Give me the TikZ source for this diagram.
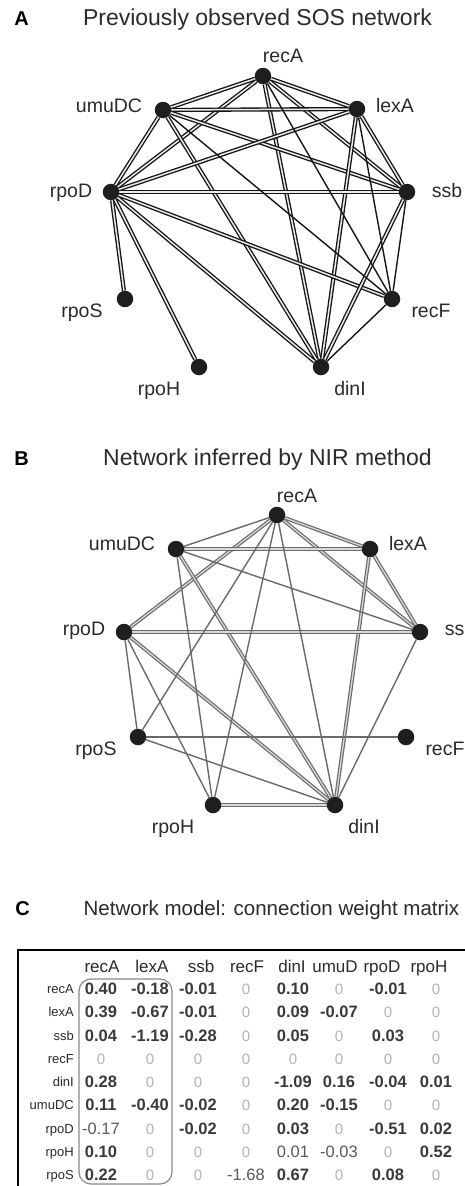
\documentclass[tikz,border=0pt]{standalone}
\usepackage{fontspec}
\setmainfont{Liberation Sans}
\pgfdeclarelayer{paper}
\pgfdeclarelayer{edges}
\pgfsetlayers{paper,edges,main}
\definecolor{txt}{HTML}{2B2B2B}
\definecolor{dotc}{HTML}{1E1E1E}
\definecolor{edgeA}{HTML}{151515}
\definecolor{edgeB}{HTML}{6A6A6A}
\definecolor{valb}{HTML}{3A3A3A}
\definecolor{valm}{HTML}{5A5A5A}
\definecolor{valz}{HTML}{B4B4B4}
\definecolor{boxc}{HTML}{8A8A8A}
% one row of the weight matrix: #1 row index, #2 y, #3 style/value list
\newcommand\cellrow[3]{%
  \foreach \s/\v [count=\j] in {#3} {%
    \pgfmathsetmacro\cx{{101,150,198,246,293,339,388,436}[\j-1]}%
    \node[\s] (c#1-\j) at (\cx,#2) {\v};
  }}
\begin{document}
\begin{tikzpicture}[x=1pt,y=-1pt,
  dot/.style={circle,fill=dotc,inner sep=0pt,minimum size=16.5pt},
  lab/.style={font=\fontsize{19.5}{22}\selectfont,text=txt,anchor=base,inner sep=0pt},
  ttl/.style={font=\fontsize{23}{26}\selectfont,text=txt,anchor=base,inner sep=0pt},
  ttlc/.style={font=\fontsize{20.5}{24}\selectfont,text=txt,anchor=base,inner sep=0pt},
  letter/.style={font=\fontsize{20}{22}\selectfont\bfseries,text=black,anchor=base,inner sep=0pt},
  dblA/.style={draw=edgeA,line width=1.35pt,double=white!92!black,double distance=1.5pt},
  sglA/.style={draw=edgeA,line width=1.4pt},
  dblB/.style={draw=edgeB,line width=1.2pt,double=white!85!black,double distance=1.3pt},
  sglB/.style={draw=edgeB,line width=1.4pt},
  hdr/.style={font=\fontsize{17}{19}\selectfont,text=txt,anchor=center,inner sep=0pt,text height=12pt,text depth=0pt},
  rowlab/.style={font=\fontsize{13}{15}\selectfont,text=txt,anchor=east,inner sep=0pt,text height=9pt,text depth=0pt},
  vb/.style={font=\fontsize{16.5}{18}\selectfont\bfseries,text=valb,anchor=center,inner sep=0pt,text height=11.5pt,text depth=0pt},
  vm/.style={font=\fontsize{16.5}{18}\selectfont,text=valm,anchor=center,inner sep=0pt,text height=11.5pt,text depth=0pt},
  vz/.style={font=\fontsize{15}{18}\selectfont,text=valz,anchor=center,inner sep=0pt,text height=11.5pt,text depth=0pt},
]
\begin{pgfonlayer}{paper}
  \fill[white] (0,0) rectangle (465,1186);
\end{pgfonlayer}
\useasboundingbox (0,0) rectangle (465,1186);

% ---------------- panel A ----------------
\node[letter] (letA) at (21.5,25) {A};
\node[ttl] (ttlA) at (257.5,25) {Previously observed SOS network};

\node[dot] (aRecA) at (263,76) {};
\node[dot] (aUmu)  at (163,110) {};
\node[dot] (aLex)  at (357,109) {};
\node[dot] (aRpoD) at (111,192) {};
\node[dot] (aSsb)  at (407,192) {};
\node[dot] (aRpoS) at (125,299) {};
\node[dot] (aRecF) at (392,299) {};
\node[dot] (aRpoH) at (199,367) {};
\node[dot] (aDinI) at (321,367) {};

\node[lab] (aRecAl) at (283,62) {recA};
\node[lab] (aUmul)  at (109,112) {umuDC};
\node[lab] (aLexl)  at (395,112) {lexA};
\node[lab] (aRpoDl) at (71,197) {rpoD};
\node[lab] (aSsbl)  at (447,197) {ssb};
\node[lab] (aRpoSl) at (82,317) {rpoS};
\node[lab] (aRecFl) at (431,317) {recF};
\node[lab] (aRpoHl) at (159,395) {rpoH};
\node[lab] (aDinIl) at (350,395) {dinI};

\begin{pgfonlayer}{edges}
  \foreach \p/\q in {aRecA/aUmu, aRecA/aLex, aRecA/aRpoD, aRecA/aSsb, aRecA/aDinI,
                     aUmu/aLex, aUmu/aRpoD, aUmu/aSsb, aUmu/aDinI,
                     aLex/aRpoD, aLex/aSsb, aLex/aDinI,
                     aRpoD/aSsb, aRpoD/aRpoS, aRpoD/aRpoH, aRpoD/aRecF, aRpoD/aDinI,
                     aSsb/aDinI}
    \draw[dblA] (\p) -- (\q);
  \foreach \p/\q in {aRecA/aRecF, aUmu/aRecF, aLex/aRecF, aSsb/aRecF, aRecF/aDinI}
    \draw[sglA] (\p) -- (\q);
\end{pgfonlayer}

% ---------------- panel B ----------------
\node[letter] (letB) at (21.5,465) {B};
\node[ttl] (ttlB) at (267.5,465) {Network inferred by NIR method};

\node[dot] (bRecA) at (277,515) {};
\node[dot] (bUmu)  at (176,549) {};
\node[dot] (bLex)  at (370,549) {};
\node[dot] (bRpoD) at (124,632) {};
\node[dot] (bSsb)  at (420,632) {};
\node[dot] (bRpoS) at (138,737) {};
\node[dot] (bRecF) at (406,737) {};
\node[dot] (bRpoH) at (213,805) {};
\node[dot] (bDinI) at (335,805) {};

\node[lab] (bRecAl) at (297,502) {recA};
\node[lab] (bUmul)  at (122,550) {umuDC};
\node[lab] (bLexl)  at (408,550) {lexA};
\node[lab] (bRpoDl) at (84,635) {rpoD};
\node[lab] (bSsbl)  at (460,635) {ssb};
\node[lab] (bRpoSl) at (96,755) {rpoS};
\node[lab] (bRecFl) at (445,755) {recF};
\node[lab] (bRpoHl) at (173,833) {rpoH};
\node[lab] (bDinIl) at (364,833) {dinI};

\begin{pgfonlayer}{edges}
  \foreach \p/\q in {bRecA/bLex, bRecA/bRpoD, bRecA/bSsb,
                     bUmu/bLex, bUmu/bDinI, bLex/bSsb, bLex/bDinI,
                     bRpoD/bSsb, bRpoD/bDinI, bRpoH/bDinI}
    \draw[dblB] (\p) -- (\q);
  \foreach \p/\q in {bRecA/bUmu, bRecA/bRpoS, bRecA/bRpoH, bRecA/bDinI,
                     bUmu/bSsb, bUmu/bRpoH, bRpoD/bRpoS, bRpoD/bRpoH,
                     bRpoS/bRecF, bRpoS/bDinI, bSsb/bDinI}
    \draw[sglB] (\p) -- (\q);
\end{pgfonlayer}

% ---------------- panel C ----------------
\node[letter] (letC) at (22.5,915) {C};
\node[ttlc] (ttlC) at (271.5,915) {Network model: connection weight matrix};

\draw[line width=2pt,black] (18,1190) -- (18,950) -- (470,950);
\draw[boxc,line width=1.2pt,rounded corners=12pt] (79,979) rectangle (172,1184);

\foreach \x/\t [count=\i] in {102/recA,152/lexA,201/ssb,247/recF,292/dinI,335/umuD,382/rpoD,429/rpoH}
  \node[hdr] (h\i) at (\x,966) {\t};

\foreach \y/\t [count=\i] in {989/recA,1012/lexA,1035.5/ssb,1059/recF,1082/dinI,1105/umuDC,1128.5/rpoD,1152/rpoH,1175/rpoS}
  \node[rowlab] (r\i) at (74,\y) {\t};

\cellrow{1}{989}{vb/0.40,vb/-0.18,vb/-0.01,vz/0,vb/0.10,vz/0,vb/-0.01,vz/0}
\cellrow{2}{1012}{vb/0.39,vb/-0.67,vb/-0.01,vz/0,vb/0.09,vb/-0.07,vz/0,vz/0}
\cellrow{3}{1035.5}{vb/0.04,vb/-1.19,vb/-0.28,vz/0,vb/0.05,vz/0,vb/0.03,vz/0}
\cellrow{4}{1059}{vz/0,vz/0,vz/0,vz/0,vz/0,vz/0,vz/0,vz/0}
\cellrow{5}{1082}{vb/0.28,vz/0,vz/0,vz/0,vb/-1.09,vb/0.16,vb/-0.04,vb/0.01}
\cellrow{6}{1105}{vb/0.11,vb/-0.40,vb/-0.02,vz/0,vb/0.20,vb/-0.15,vz/0,vz/0}
\cellrow{7}{1128.5}{vm/-0.17,vz/0,vb/-0.02,vz/0,vb/0.03,vz/0,vb/-0.51,vb/0.02}
\cellrow{8}{1152}{vb/0.10,vz/0,vz/0,vz/0,vm/0.01,vm/-0.03,vz/0,vb/0.52}
\cellrow{9}{1175}{vb/0.22,vz/0,vz/0,vm/-1.68,vb/0.67,vz/0,vb/0.08,vz/0}
\end{tikzpicture}
\end{document}
